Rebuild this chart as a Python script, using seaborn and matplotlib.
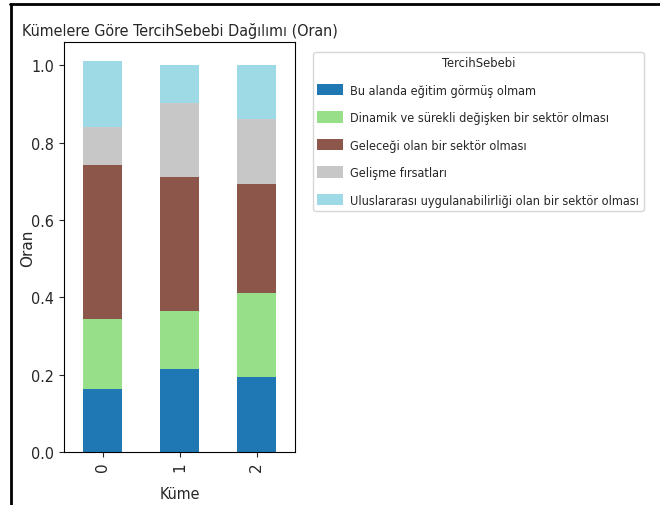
import numpy as np
import pandas as pd
import matplotlib.pyplot as plt
import seaborn as sns
from matplotlib.lines import Line2D

clusters = ["0", "1", "2"]
reasons = [
    "Bu alanda eğitim görmüş olmam",
    "Dinamik ve sürekli değişken bir sektör olması",
    "Geleceği olan bir sektör olması",
    "Gelişme fırsatları",
    "Uluslararası uygulanabilirliği olan bir sektör olması",
]
egitim = [0.162, 0.214, 0.193]
dinamik = [0.181, 0.150, 0.219]
gelecek = [0.398, 0.347, 0.280]
gelisme = [0.099, 0.190, 0.168]
uluslararasi = [0.170, 0.099, 0.140]

sns.set_style("ticks")
plt.rcParams["font.family"] = ["DejaVu Sans"]
plt.rcParams["font.stretch"] = "condensed"

df = pd.DataFrame(
    {"Küme": clusters,
     reasons[0]: egitim, reasons[1]: dinamik, reasons[2]: gelecek,
     reasons[3]: gelisme, reasons[4]: uluslararasi}
)
long = df.melt(id_vars="Küme", var_name="TercihSebebi", value_name="Oran")

# tab20 sampled at 5 points
colors = ["#1f77b4", "#98df8a", "#8c564b", "#c7c7c7", "#9edae5"]

fig = plt.figure(figsize=(6.6, 5.06), dpi=100)
ax = fig.add_axes([0.097, 0.105, 0.35, 0.81])

bottom = np.zeros(len(clusters))
for reason, col in zip(reasons, colors):
    sub = long[long["TercihSebebi"] == reason]
    sns.barplot(data=sub, x="Küme", y="Oran", color=col, bottom=bottom,
                width=0.5, label=reason, ax=ax, errorbar=None,
                saturation=1, linewidth=0)
    bottom += sub["Oran"].to_numpy()

ax.set_xlim(-0.5, 2.5)
ax.set_ylim(0, 1.06)
ax.set_xticks(range(3))
ax.set_xticklabels(clusters, rotation=90, fontsize=11, fontstretch="normal")
ax.tick_params(axis="y", labelsize=11.5)
ax.set_xlabel("Küme", fontsize=11.5, labelpad=11)
ax.set_ylabel("Oran", fontsize=11, labelpad=-3, fontstretch="normal")
ax.set_title("Kümelere Göre TercihSebebi Dağılımı (Oran)", fontsize=11.5, pad=5)
for s in ax.spines.values():
    s.set_visible(True)
    s.set_color("black")

ax.legend(title="TercihSebebi", loc="upper left", bbox_to_anchor=(1.078, 0.976),
          borderaxespad=0, fontsize=9.1, title_fontsize=9.3, frameon=True,
          labelspacing=1.15, handleheight=1.0, borderpad=0.35,
          handletextpad=0.6)

fig.add_artist(Line2D([0.015, 1.0], [0.991, 0.991], color="black", lw=2))
fig.add_artist(Line2D([0.016, 0.016], [0.0, 0.991], color="black", lw=2))

plt.savefig("out.png", dpi=100)
plt.close()
